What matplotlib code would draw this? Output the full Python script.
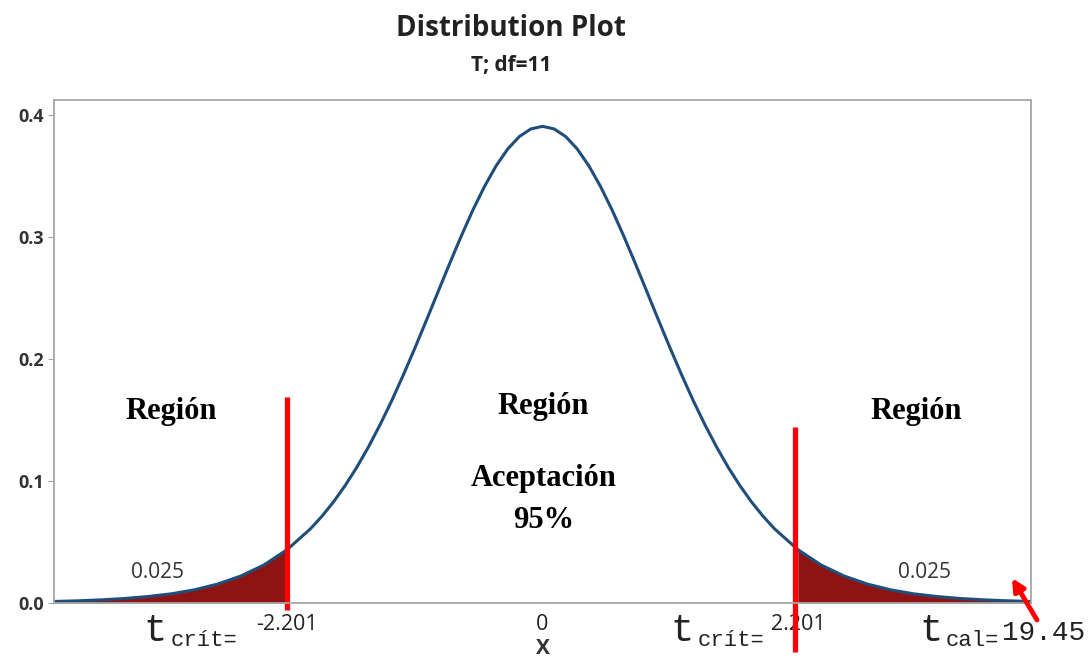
import numpy as np
import matplotlib
matplotlib.use("Agg")
import matplotlib.pyplot as plt

# density of T(df=11) (right half, mirrored for the left)
x_half = [0.0, 0.1, 0.2, 0.3, 0.4, 0.5, 0.6, 0.7, 0.8, 0.9, 1.0,
          1.1, 1.2, 1.3, 1.4, 1.5, 1.6, 1.7, 1.8, 1.9, 2.0,
          2.2, 2.4, 2.6, 2.8, 3.0, 3.2, 3.4, 3.6, 3.8, 4.0, 4.2]
dens_half = [0.3907, 0.3886, 0.3823, 0.3721, 0.3583, 0.3414, 0.3221, 0.3008, 0.2783, 0.2551, 0.2318,
             0.2089, 0.1868, 0.1657, 0.1461, 0.1279, 0.1113, 0.0964, 0.0830, 0.0712, 0.0608,
             0.0438, 0.0312, 0.0221, 0.0155, 0.0108, 0.0075, 0.0053, 0.0037, 0.0026, 0.0018, 0.0013]

t_crit = 2.201
tick_vals = [-2.201, 0, 2.201]
tick_labels = ["-2.201", "0", "2.201"]
y_ticks = [0.0, 0.1, 0.2, 0.3, 0.4]
tail_prob = "0.025"

x = np.concatenate([-np.array(x_half[::-1]), np.array(x_half[1:])])
dens = np.concatenate([np.array(dens_half[::-1]), np.array(dens_half[1:])])

W, H = 1091, 662
fig = plt.figure(figsize=(W / 100, H / 100), dpi=100)
ax = fig.add_axes([54 / W, 1 - 603 / H, (1031 - 54) / W, (603 - 100) / H])

curve_col = "#1F4E7A"
tail_col = "#8E1414"

left = x <= -t_crit + 0.002
right = x >= t_crit - 0.002
ax.fill_between(x[left], 0, dens[left], color=tail_col, lw=0)
ax.fill_between(x[right], 0, dens[right], color=tail_col, lw=0)
ax.plot(x, dens, color=curve_col, lw=2.2, solid_joinstyle="round")

ax.set_xlim(-4.21, 4.21)
ax.set_ylim(0, 0.4123)

for s in ax.spines.values():
    s.set_color("#A6A6A6")
    s.set_linewidth(1.3)

ax.set_yticks(y_ticks)
ax.set_yticklabels([f"{v:.1f}" for v in y_ticks], fontsize=13, fontweight="bold",
                   color="#333333", family="Open Sans")
ax.tick_params(axis="y", length=4, color="#A6A6A6", pad=3)
ax.set_xticks(tick_vals)
ax.set_xticklabels(tick_labels, fontsize=15.5, color="#222222", family="Open Sans")
ax.tick_params(axis="x", length=0, pad=8)

ax.set_xlabel("X", fontsize=15, fontweight="bold", color="#333333", family="Open Sans", labelpad=2)

fig.text(511 / W, 1 - 28 / H, "Distribution Plot", ha="center", va="center",
         fontsize=20, fontweight="bold", family="Open Sans", color="#222222")
fig.text(511 / W, 1 - 66 / H, "T; df=11", ha="center", va="center",
         fontsize=15, fontweight="bold", family="Open Sans", color="#222222")

# tail probabilities
ax.text(-3.32, 0.0254, tail_prob, ha="center", va="center", fontsize=15,
        color="#333333", family="Open Sans")
ax.text(3.29, 0.0246, tail_prob, ha="center", va="center", fontsize=15,
        color="#333333", family="Open Sans")

# region labels
serif = dict(family="Liberation Serif", fontweight="bold", fontsize=22, color="black",
             ha="center", va="center")
ax.text(-3.20, 0.157, "Región", **serif)
ax.text(0.01, 0.161, "Región", **serif)
ax.text(3.22, 0.157, "Región", **serif)
ax.text(0.01, 0.102, "Aceptación", **serif)
ax.text(0.01, 0.068, "95%", **serif)

# red critical lines
ax.plot([-2.20, -2.20], [-0.006, 0.169], color="red", lw=3.8, clip_on=False, solid_capstyle="butt")
ax.plot([2.175, 2.175], [-0.040, 0.144], color="red", lw=3.8, clip_on=False, solid_capstyle="butt")

# t labels below the axis
mono = dict(family="Liberation Mono", color="#222222", va="baseline", ha="left")
fig.text(143 / W, 1 - 641 / H, "t", fontsize=28, **mono)
fig.text(171 / W, 1 - 646 / H, "crít=", fontsize=16, **mono)
fig.text(670 / W, 1 - 641 / H, "t", fontsize=28, **mono)
fig.text(698 / W, 1 - 646 / H, "crít=", fontsize=16, **mono)
fig.text(919 / W, 1 - 641 / H, "t", fontsize=28, **mono)
fig.text(946 / W, 1 - 646 / H, "cal=", fontsize=16, **mono)
fig.text(1002 / W, 1 - 640 / H, "19.45", fontsize=20, **mono)

ax.annotate("", xy=(1012 / W, 1 - 578 / H), xytext=(1037 / W, 1 - 620 / H),
            xycoords="figure fraction", textcoords="figure fraction",
            arrowprops=dict(arrowstyle="-|>", color="red", lw=3.5, mutation_scale=18,
                            shrinkA=0, shrinkB=0))

fig.savefig("out.png", dpi=100)
